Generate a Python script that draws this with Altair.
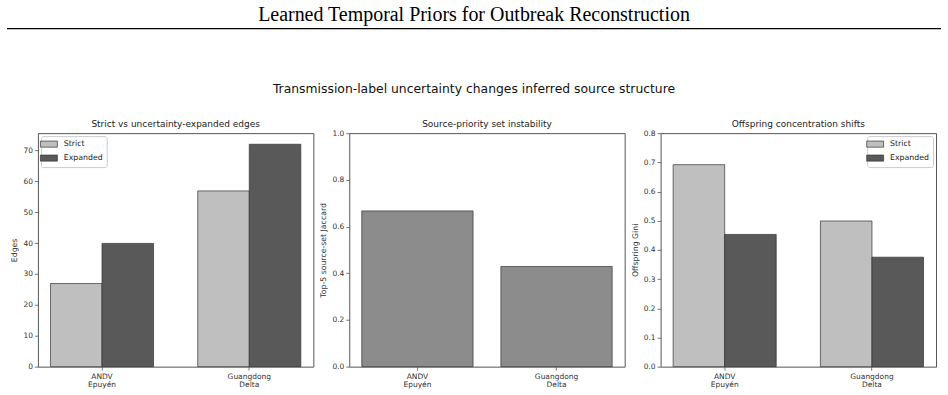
import altair as alt
import pandas as pd

HEADER = "Learned Temporal Priors for Outbreak Reconstruction"
SUBTITLE = "Transmission-label uncertainty changes inferred source structure"
PANEL_TITLES = ["Strict vs uncertainty-expanded edges", "Source-priority set instability",
                "Offspring concentration shifts"]

outbreaks = ["ANDV|Epuyén", "Guangdong|Delta"]
series = ["Strict", "Expanded"]
series_colors = ["#bfbfbf", "#595959"]

edges_strict = [26.9, 56.9]
edges_expanded = [39.9, 72.0]
jaccard = [0.667, 0.429]
gini_strict = [0.692, 0.499]
gini_expanded = [0.453, 0.375]

edge_ticks = [0, 10, 20, 30, 40, 50, 60, 70]
jac_ticks = [0.0, 0.2, 0.4, 0.6, 0.8, 1.0]
gini_ticks = [0.0, 0.1, 0.2, 0.3, 0.4, 0.5, 0.6, 0.7, 0.8]


def long_df(strict, expanded):
    rows = []
    for o, s, e in zip(outbreaks, strict, expanded):
        rows.append({"outbreak": o, "series": "Strict", "value": s})
        rows.append({"outbreak": o, "series": "Expanded", "value": e})
    return pd.DataFrame(rows)


W, H = 276, 234
TOP = 132
LEFT = 37
FONT = "DejaVu Sans"

x_axis = alt.Axis(labelExpr="split(datum.label, '|')", labelAngle=0, labelLineHeight=8.5,
                  labelPadding=2, title=None, labelBaseline="top")


def panel_title(t):
    return alt.Chart(pd.DataFrame({"t": [t]})).mark_text(
        font=FONT, fontSize=9, align="center", baseline="alphabetic", color="#222"
    ).encode(text="t:N", x=alt.value(W / 2), y=alt.value(-6))


def legend(orient):
    return alt.Legend(title=None, orient=orient, offset=3, padding=4, fillColor="white",
                      strokeColor="#cccccc", cornerRadius=2, labelFontSize=7.8, labelFont=FONT,
                      labelColor="#222",
                      symbolType="M-2.5,-0.9L2.5,-0.9L2.5,0.9L-2.5,0.9Z", symbolSize=46,
                      symbolStrokeColor="#333", symbolStrokeWidth=0.7, labelOffset=11,
                      rowPadding=4, symbolOpacity=1)


def grouped(df, ytitle, domain, ticks, orient):
    return alt.Chart(df).mark_bar(stroke="#333", strokeWidth=0.7).encode(
        x=alt.X("outbreak:N", sort=outbreaks,
                scale=alt.Scale(paddingInner=0.3, paddingOuter=0.085), axis=x_axis),
        xOffset=alt.XOffset("series:N", sort=series,
                            scale=alt.Scale(paddingInner=0, paddingOuter=0)),
        y=alt.Y("value:Q", title=ytitle, scale=alt.Scale(domain=domain, nice=False, zero=True),
                axis=alt.Axis(values=ticks, format=".1f" if domain[1] < 5 else "d", titlePadding=4)),
        color=alt.Color("series:N", sort=series,
                        scale=alt.Scale(domain=series, range=series_colors),
                        legend=legend(orient)),
    )


p1_bars = grouped(long_df(edges_strict, edges_expanded), "Edges", [0, 75.6], edge_ticks, "top-left")

header = alt.Chart(pd.DataFrame({"t": [HEADER]})).mark_text(
    font="Liberation Serif", fontSize=20, align="center", baseline="alphabetic", color="black"
).encode(text="t:N", x=alt.value(474 - LEFT), y=alt.value(19.5 - TOP))

subtitle = alt.Chart(pd.DataFrame({"t": [SUBTITLE]})).mark_text(
    font=FONT, fontSize=12.4, align="center", baseline="middle", color="#111"
).encode(text="t:N", x=alt.value(474 - LEFT), y=alt.value(87.5 - TOP))

hrule = alt.Chart(pd.DataFrame({"t": [0]})).mark_rule(color="black", strokeWidth=1.3).encode(
    x=alt.value(6 - LEFT), x2=alt.value(942 - LEFT), y=alt.value(27.3 - TOP)
)

frame = alt.Chart(pd.DataFrame({"t": [0]})).mark_rule(opacity=0, strokeWidth=0.01).encode(
    x=alt.value(-LEFT), x2=alt.value(948 - LEFT), y=alt.value(-TOP), y2=alt.value(395 - TOP)
)

p1 = alt.layer(p1_bars, panel_title(PANEL_TITLES[0]), header, subtitle, hrule, frame).properties(
    width=W, height=H)

p2_bars = alt.Chart(pd.DataFrame({"outbreak": outbreaks, "value": jaccard})).mark_bar(
    stroke="#333", strokeWidth=0.7, color="#8c8c8c"
).encode(
    x=alt.X("outbreak:N", sort=outbreaks,
            scale=alt.Scale(paddingInner=0.2, paddingOuter=0.09), axis=x_axis),
    y=alt.Y("value:Q", title="Top-5 source-set Jaccard",
            scale=alt.Scale(domain=[0, 1], nice=False),
            axis=alt.Axis(values=jac_ticks, format=".1f", titlePadding=4)),
)
p2 = alt.layer(p2_bars, panel_title(PANEL_TITLES[1])).properties(width=W, height=H)

p3_bars = grouped(long_df(gini_strict, gini_expanded), "Offspring Gini", [0, 0.8], gini_ticks,
                  "top-right")
p3 = alt.layer(p3_bars, panel_title(PANEL_TITLES[2])).properties(width=W, height=H)

chart = alt.hconcat(p1, p2, p3, spacing=36, bounds="flush").properties(padding=0).configure_view(
    stroke="#555", strokeWidth=1
).configure_axis(
    labelFont=FONT, titleFont=FONT, labelFontSize=7.5, titleFontSize=7.8,
    labelColor="#333", titleColor="#333", tickColor="#555", tickSize=3.5, tickWidth=0.8,
    domain=False, grid=False, titleFontWeight="normal", labelPadding=2
)

chart.save("out.html", embed_options={"renderer": "svg", "actions": False})
